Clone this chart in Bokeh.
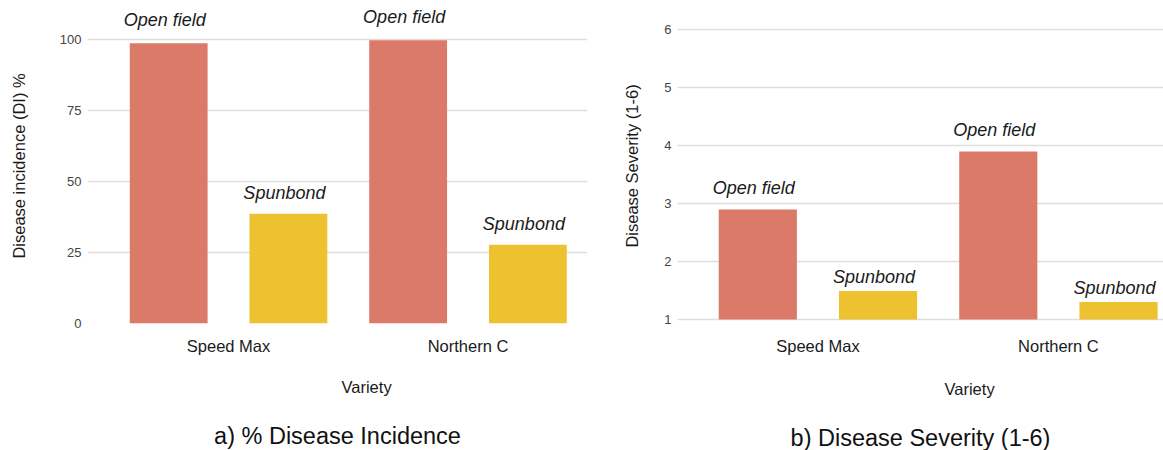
from bokeh.plotting import figure
from bokeh.models import Range1d, FixedTicker, Title, ColumnDataSource
from bokeh.layouts import row
from bokeh.core.properties import value
from bokeh.embed import file_html
from bokeh.resources import INLINE

# ---- data ----
varieties = ["Speed Max", "Northern C"]
treatments = ["Open field", "Spunbond"]
incidence_open = [98.7, 99.7]
incidence_spunbond = [38.6, 27.7]
severity_open = [2.90, 3.90]
severity_spunbond = [1.49, 1.30]
incidence_ticks = [0, 25, 50, 75, 100]
severity_ticks = [1, 2, 3, 4, 5, 6]

OPEN_COLOR = "#db7a68"
SPUN_COLOR = "#eec130"
FONT = "Liberation Sans"


def make_panel(open_vals, spun_vals, ticks, base, y_start, y_end, x_start, x_end,
               width, height, border_left, border_right,
               ylabel, ylabel_standoff, xlabel_offset, xlabel_standoff,
               xtick_standoff, title, title_standoff, label_offsets):
    p = figure(width=width, height=height, output_backend="svg",
               toolbar_location=None, title=None,
               x_range=Range1d(x_start, x_end), y_range=Range1d(y_start, y_end),
               min_border_left=border_left, min_border_right=border_right,
               min_border_top=8, min_border_bottom=127)
    p.outline_line_color = None
    p.background_fill_color = "white"
    p.border_fill_color = "white"

    idx = list(range(len(varieties)))
    xs, tops, colors, texts, yoffs = [], [], [], [], []
    for i in idx:
        xs += [i - 0.25, i + 0.25]
        tops += [open_vals[i], spun_vals[i]]
        colors += [OPEN_COLOR, SPUN_COLOR]
        texts += treatments
        yoffs += [-label_offsets[0], -label_offsets[1]]
    src = ColumnDataSource(dict(x=xs, top=tops, color=colors, text=texts, yoff=yoffs))
    p.vbar(x="x", top="top", bottom=base, width=0.325, color="color",
           line_color=None, source=src)
    p.text(x="x", y="top", text="text", source=src,
           text_font=value(FONT), text_font_style="italic",
           text_font_size="18px", text_color="#1a1a1a",
           text_align="center", text_baseline="bottom",
           x_offset=-4, y_offset="yoff")

    # grid
    p.xgrid.grid_line_color = None
    p.ygrid.ticker = FixedTicker(ticks=ticks)
    p.ygrid.grid_line_color = "#dedede"
    p.ygrid.grid_line_width = 1.6

    # y axis
    p.yaxis.ticker = FixedTicker(ticks=ticks)
    p.yaxis.axis_line_color = None
    p.yaxis.major_tick_line_color = None
    p.yaxis.minor_tick_line_color = None
    p.yaxis.major_tick_out = 0
    p.yaxis.major_tick_in = 0
    p.yaxis.minor_tick_out = 0
    p.yaxis.major_label_standoff = 6
    p.yaxis.major_label_text_font = FONT
    p.yaxis.major_label_text_font_size = "13px"
    p.yaxis.major_label_text_color = "#444444"
    p.yaxis.axis_label = ylabel
    p.yaxis.axis_label_text_font = FONT
    p.yaxis.axis_label_text_font_style = "normal"
    p.yaxis.axis_label_text_font_size = "16.5px"
    p.yaxis.axis_label_text_color = "#1a1a1a"
    p.yaxis.axis_label_standoff = ylabel_standoff

    # x axis
    p.xaxis.ticker = FixedTicker(ticks=idx)
    p.xaxis.major_label_overrides = {i: v for i, v in zip(idx, varieties)}
    p.xaxis.axis_line_color = None
    p.xaxis.major_tick_line_color = None
    p.xaxis.minor_tick_line_color = None
    p.xaxis.major_tick_out = 0
    p.xaxis.major_tick_in = 0
    p.xaxis.minor_tick_out = 0
    p.xaxis.major_label_standoff = xtick_standoff
    p.xaxis.major_label_text_font = FONT
    p.xaxis.major_label_text_font_size = "16.5px"
    p.xaxis.major_label_text_color = "#1a1a1a"

    p.add_layout(Title(text="Variety", align="left", offset=xlabel_offset,
                       vertical_align="top",
                       text_font=FONT, text_font_style="normal",
                       text_font_size="16.5px", text_color="#1a1a1a",
                       standoff=xlabel_standoff), "below")
    p.add_layout(Title(text=title, align="center", vertical_align="bottom",
                       text_font=FONT, text_font_style="normal",
                       text_font_size="23.5px", text_color="#111111",
                       standoff=title_standoff), "below")
    return p


left = make_panel(incidence_open, incidence_spunbond, incidence_ticks,
                  0, 0, 110.9, -0.589, 1.499, 598, 450, 87, 11,
                  "Disease incidence (DI) %", 29, 254, 41, 13,
                  "a) % Disease Incidence", 4, (13, 11))
right = make_panel(severity_open, severity_spunbond, severity_ticks,
                   1, 0.931, 6.368, -0.584, 1.437, 565, 450, 79, 0,
                   "Disease Severity (1-6)", 20, 267, 45, 13,
                   "b) Disease Severity (1-6)", 0, (11, 4))

layout = row(left, right)
open("out.html", "w").write(file_html(layout, INLINE))
